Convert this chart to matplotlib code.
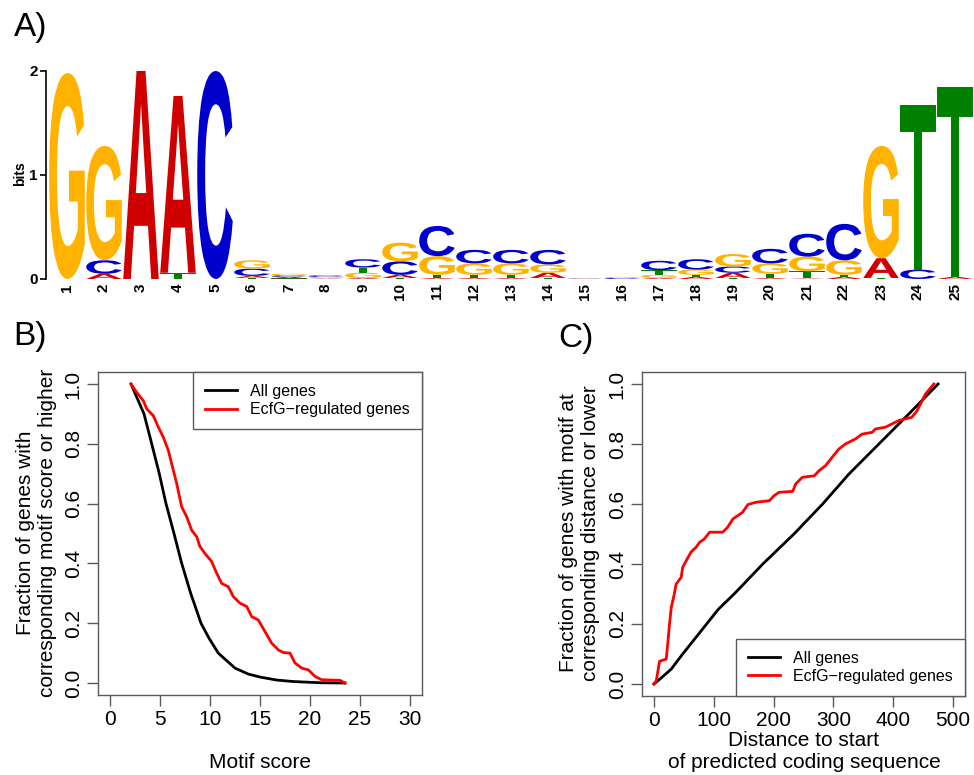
import matplotlib
matplotlib.use('Agg')
import matplotlib.pyplot as plt
from matplotlib.textpath import TextPath
from matplotlib.patches import PathPatch
from matplotlib.transforms import Affine2D
from matplotlib.font_manager import FontProperties

plt.rcParams['font.family'] = ['Liberation Sans', 'DejaVu Sans']

# ---- A) sequence logo, information (bits) per base ----
positions = list(range(1, 26))
bits_A = [0.00, 0.05, 2.00, 1.70, 0.00, 0.02, 0.015, 0.005, 0.01, 0.03, 0.01, 0.01, 0.01,
          0.05, 0.002, 0.00, 0.01, 0.02, 0.05, 0.01, 0.005, 0.02, 0.19, 0.00, 0.02]
bits_C = [0.00, 0.13, 0.00, 0.00, 2.00, 0.07, 0.015, 0.015, 0.08, 0.13, 0.29, 0.13, 0.13,
          0.14, 0.003, 0.01, 0.09, 0.10, 0.06, 0.14, 0.22, 0.35, 0.00, 0.09, 0.00]
bits_G = [1.98, 1.10, 0.00, 0.00, 0.00, 0.08, 0.015, 0.01, 0.05, 0.18, 0.18, 0.11, 0.11,
          0.08, 0.002, 0.01, 0.03, 0.05, 0.12, 0.10, 0.14, 0.14, 1.08, 0.00, 0.00]
bits_T = [0.00, 0.00, 0.00, 0.06, 0.00, 0.01, 0.005, 0.005, 0.05, 0.01, 0.03, 0.03, 0.03,
          0.01, 0.00, 0.00, 0.045, 0.02, 0.01, 0.04, 0.07, 0.02, 0.01, 1.58, 1.83]
base_colors = {'A': '#D00000', 'C': '#0000CC', 'G': '#FFB300', 'T': '#008000'}

# ---- B) fraction of genes with motif score >= x ----
score_all = [2.1, 3.4, 4.17, 4.93, 5.6, 6.4, 7.17, 8.07, 9.1, 9.9, 10.83, 12.5, 13.83,
             15.0, 16.67, 18.33, 21.0, 23.5]
frac_all = [1.0, 0.9, 0.8, 0.7, 0.6, 0.5, 0.4, 0.3, 0.2, 0.15, 0.1, 0.05, 0.03, 0.02,
            0.01, 0.005, 0.001, 0.0]
score_reg = [2.1, 2.67, 3.33, 3.67, 4.33, 4.83, 5.33, 5.83, 6.17, 6.67, 7.17, 7.67, 8.17,
             8.67, 9.0, 9.5, 10.17, 10.67, 11.17, 11.83, 12.33, 13.0, 13.67, 14.17, 14.83,
             15.5, 16.17, 16.83, 17.33, 18.0, 18.5, 19.17, 19.83, 20.5, 21.17, 23.0, 23.5]
frac_reg = [1.0, 0.972, 0.944, 0.917, 0.894, 0.856, 0.822, 0.778, 0.733, 0.667, 0.589,
            0.556, 0.511, 0.489, 0.456, 0.433, 0.406, 0.367, 0.333, 0.322, 0.289, 0.267,
            0.256, 0.222, 0.211, 0.172, 0.133, 0.111, 0.102, 0.10, 0.067, 0.05, 0.044,
            0.022, 0.011, 0.009, 0.0]

# ---- C) fraction of genes with motif at distance <= x ----
dist_all = [0, 12, 29, 48, 64, 84, 108, 134, 182, 234, 282, 326, 376, 426, 475]
cum_all = [0.0, 0.02, 0.05, 0.1, 0.14, 0.19, 0.25, 0.3, 0.4, 0.5, 0.6, 0.7, 0.8, 0.9, 1.0]
dist_reg = [0, 3.9, 9.4, 20.5, 23, 26, 29, 34, 37, 45.6, 48, 57, 62, 70.5, 76, 84, 93,
            115, 123, 132, 148, 157, 171, 193, 201, 209, 232, 237, 248, 268, 276, 287,
            298, 309, 320, 337, 348, 365, 370, 387, 398, 409, 431, 440, 454, 468]
cum_reg = [0.0, 0.011, 0.076, 0.083, 0.133, 0.20, 0.256, 0.30, 0.333, 0.356, 0.389,
           0.422, 0.44, 0.456, 0.472, 0.483, 0.506, 0.506, 0.522, 0.55, 0.572, 0.598,
           0.606, 0.611, 0.628, 0.639, 0.642, 0.667, 0.689, 0.694, 0.711, 0.728, 0.756,
           0.783, 0.80, 0.817, 0.833, 0.839, 0.85, 0.856, 0.867, 0.878, 0.889, 0.911,
           0.967, 1.0]

W, H = 974, 775


def px_box(left, top, right, bottom):
    return [left / W, 1 - bottom / H, (right - left) / W, (bottom - top) / H]


fig = plt.figure(figsize=(W / 100, H / 100), dpi=100)

# ---------------- logo ----------------
logo_font = FontProperties(family='Liberation Sans', weight='bold')


def draw_letter(ax, ch, x, y, w, h):
    tp = TextPath((0, 0), ch, size=1, prop=logo_font)
    bb = tp.get_extents()
    tr = Affine2D().translate(-bb.x0, -bb.y0).scale(w / bb.width, h / bb.height).translate(x - w / 2, y)
    ax.add_patch(PathPatch(tr.transform_path(tp), fc=base_colors[ch], ec='none', lw=0, clip_on=False))


axl = fig.add_axes(px_box(46, 71, 973.5, 279))
for i, p in enumerate(positions):
    stack = sorted([('A', bits_A[i]), ('C', bits_C[i]), ('G', bits_G[i]), ('T', bits_T[i])],
                   key=lambda e: e[1])
    y = 0
    for ch, h in stack:
        if h > 0:
            draw_letter(axl, ch, p, y, 0.96, h)
            y += h
axl.set_xlim(1 + (46 - 67) / 37, 25.5)
axl.set_ylim(0, 2)
for s in ['top', 'right', 'bottom']:
    axl.spines[s].set_visible(False)
axl.spines['left'].set_bounds(0, 2)
axl.spines['left'].set_linewidth(1.2)
axl.set_yticks([0, 1, 2])
axl.set_yticklabels(['0', '1', '2'], fontsize=11, fontweight='bold')
axl.tick_params(axis='y', length=4, width=1.2, pad=2)
axl.set_xticks(positions)
axl.set_xticklabels([str(p) for p in positions], rotation=90, fontsize=11, fontweight='bold')
axl.tick_params(axis='x', length=0, pad=3)
fig.text(20 / W, 1 - 174 / H, 'bits', rotation=90, ha='center', va='center',
         fontsize=10, fontweight='bold')

# ---------------- B / C common ----------------
frame_col = '#5a5a5a'


def style(ax):
    for s in ax.spines.values():
        s.set_color(frame_col)
        s.set_linewidth(1.0)
    ax.tick_params(length=8, width=1, color=frame_col, labelsize=15, pad=3)
    ax.tick_params(axis='y', labelrotation=90)
    for lab in ax.get_yticklabels():
        lab.set_va('center')


def legend(ax, loc):
    lg = ax.legend(loc=loc, fontsize=11.5, frameon=True, fancybox=False, framealpha=1,
                   edgecolor=frame_col, borderaxespad=0, handlelength=2.0,
                   handletextpad=0.85, borderpad=0.75, labelspacing=0.2)
    lg.get_frame().set_linewidth(1.0)


axb = fig.add_axes(px_box(98, 372, 422, 695))
axb.plot(score_all, frac_all, color='black', lw=2, label='All genes')
axb.plot(score_reg, frac_reg, color='red', lw=2, label='EcfG\u2212regulated genes')
axb.set_xlim(-1.2, 31.2)
axb.set_ylim(-0.04, 1.04)
axb.set_xticks([0, 5, 10, 15, 20, 25, 30])
axb.set_yticks([0, 0.2, 0.4, 0.6, 0.8, 1.0])
axb.set_yticklabels(['0.0', '0.2', '0.4', '0.6', '0.8', '1.0'])
style(axb)
legend(axb, 'upper right')
fig.text(37 / W, 1 - 533 / H, 'Fraction of genes with\ncorresponding motif score or higher',
         rotation=90, ha='center', va='center', fontsize=15, multialignment='center')
fig.text(260 / W, 1 - 763 / H, 'Motif score', ha='center', va='center', fontsize=15)

axc = fig.add_axes(px_box(642, 372, 965, 696))
axc.plot(dist_all, cum_all, color='black', lw=2, label='All genes')
axc.plot(dist_reg, cum_reg, color='red', lw=2, label='EcfG\u2212regulated genes')
axc.set_xlim(-20, 520)
axc.set_ylim(-0.04, 1.04)
axc.set_xticks([0, 100, 200, 300, 400, 500])
axc.set_yticks([0, 0.2, 0.4, 0.6, 0.8, 1.0])
axc.set_yticklabels(['0.0', '0.2', '0.4', '0.6', '0.8', '1.0'])
style(axc)
legend(axc, 'lower right')
fig.text(580 / W, 1 - 533 / H, 'Fraction of genes with motif at\ncorresponding distance or lower',
         rotation=90, ha='center', va='center', fontsize=15, multialignment='center')
fig.text(804 / W, 1 - 752 / H, 'Distance to start\nof predicted coding sequence',
         ha='center', va='center', fontsize=15, multialignment='center')

# panel labels
fig.text(14 / W, 1 - 36 / H, 'A)', fontsize=24, va='baseline')
fig.text(13 / W, 1 - 345 / H, 'B)', fontsize=24, va='baseline')
fig.text(558 / W, 1 - 347 / H, 'C)', fontsize=24, va='baseline')

fig.savefig('out.png', dpi=100)
